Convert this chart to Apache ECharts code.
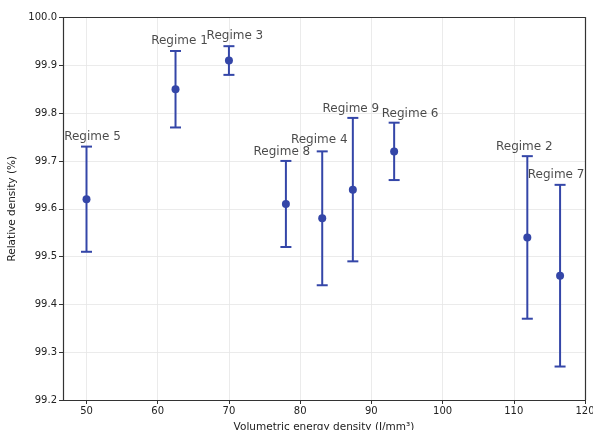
<!DOCTYPE html>
<html>
<head>
<meta charset="utf-8">
<script src="https://cdn.jsdelivr.net/npm/echarts@6/dist/echarts.min.js"></script>
<style>
  html, body { margin: 0; padding: 0; background: #fff; }
  #chart { width: 593px; height: 430px; }
</style>
</head>
<body>
<div id="chart"></div>
<script>
// Regime measurements: energy density, mean relative density and its spread
const regimes = ['Regime 5', 'Regime 1', 'Regime 3', 'Regime 8', 'Regime 4', 'Regime 9', 'Regime 6', 'Regime 2', 'Regime 7'];
const energyDensity = [50, 62.5, 70, 78, 83.1, 87.4, 93.2, 111.9, 116.5];
const meanDensity = [99.62, 99.85, 99.91, 99.61, 99.58, 99.64, 99.72, 99.54, 99.46];
const lowDensity  = [99.51, 99.77, 99.88, 99.52, 99.44, 99.49, 99.66, 99.37, 99.27];
const highDensity = [99.73, 99.93, 99.94, 99.70, 99.72, 99.79, 99.78, 99.71, 99.65];

// Tick labels
const xTicks = [50, 60, 70, 80, 90, 100, 110, 120];
const yTicks = [99.2, 99.3, 99.4, 99.5, 99.6, 99.7, 99.8, 99.9, 100.0];

// Small nudges so the regime labels don't collide
const labelNudge = [[6, -4], [4, -4], [6, -4], [-4, -3], [-3, -6], [-2, -3], [16, -3], [-3, -3], [-4, -4]];

const markColor = '#3446a8';
const font = 'DejaVu Sans';
const frameColor = '#333';

const errorData = energyDensity.map((x, i) => [x, lowDensity[i], highDensity[i]]);
const pointData = energyDensity.map((x, i) => [x, meanDensity[i]]);
const labelData = energyDensity.map((x, i) => ({
  name: regimes[i],
  value: [x, highDensity[i]],
  label: { offset: labelNudge[i] }
}));

const chart = echarts.init(document.getElementById('chart'), null, { renderer: 'canvas' });

// plain frame axes on the top and right edges
const frameX = {
  type: 'value', position: 'top', min: 46.7, max: 120,
  axisLine: { show: true, onZero: false, lineStyle: { color: frameColor, width: 1.2 } },
  axisTick: { show: false }, axisLabel: { show: false }, splitLine: { show: false }
};
const frameY = {
  type: 'value', position: 'right', min: 99.2, max: 100.0,
  axisLine: { show: true, onZero: false, lineStyle: { color: frameColor, width: 1.2 } },
  axisTick: { show: false }, axisLabel: { show: false }, splitLine: { show: false }
};

chart.setOption({
  animation: false,
  backgroundColor: '#fff',
  grid: {
    left: 63, right: 8, top: 17.5, bottom: 30,
    outerBoundsMode: 'none',
    containLabel: false
  },
  xAxis: [{
    type: 'value',
    min: 46.7, max: 120,
    name: 'Volumetric energy density (J/mm³)',
    nameLocation: 'middle', nameGap: 22,
    nameTextStyle: { fontFamily: font, fontSize: 10.5, color: '#222' },
    axisLine: { show: true, onZero: false, lineStyle: { color: frameColor, width: 1.2 } },
    axisTick: { show: true, customValues: xTicks, length: 4, lineStyle: { color: frameColor } },
    axisLabel: { customValues: xTicks, fontFamily: font, fontSize: 10, color: '#222', margin: 6,
                 formatter: v => String(Math.round(v)) },
    splitLine: { show: true, lineStyle: { color: '#e6e6e6', width: 0.8 } }
  }, frameX],
  yAxis: [{
    type: 'value',
    min: 99.2, max: 100.0,
    name: 'Relative density (%)',
    nameLocation: 'middle', nameGap: 44,
    nameTextStyle: { fontFamily: font, fontSize: 10.5, color: '#222' },
    axisLine: { show: true, onZero: false, lineStyle: { color: frameColor, width: 1.2 } },
    axisTick: { show: true, customValues: yTicks, length: 4, lineStyle: { color: frameColor } },
    axisLabel: { customValues: yTicks, fontFamily: font, fontSize: 10, color: '#222', margin: 6,
                 formatter: v => v.toFixed(1) },
    splitLine: { show: true, lineStyle: { color: '#e6e6e6', width: 0.8 } }
  }, frameY],
  series: [
    {
      // vertical error bars with caps
      type: 'custom',
      data: errorData,
      renderItem: (params, api) => {
        const x = api.value(0);
        const lo = api.coord([x, api.value(1)]);
        const hi = api.coord([x, api.value(2)]);
        const half = 5.5;
        const style = { stroke: markColor, lineWidth: 2 };
        return {
          type: 'group',
          children: [
            { type: 'line', shape: { x1: lo[0], y1: lo[1], x2: hi[0], y2: hi[1] }, style },
            { type: 'line', shape: { x1: hi[0] - half, y1: hi[1], x2: hi[0] + half, y2: hi[1] }, style },
            { type: 'line', shape: { x1: lo[0] - half, y1: lo[1], x2: lo[0] + half, y2: lo[1] }, style }
          ]
        };
      },
      z: 2
    },
    {
      type: 'scatter',
      data: pointData,
      symbol: 'circle',
      symbolSize: 8,
      itemStyle: { color: markColor, opacity: 1 },
      z: 3
    },
    {
      // regime names above each upper cap
      type: 'scatter',
      data: labelData,
      symbolSize: 0,
      silent: true,
      label: {
        show: true,
        position: 'top',
        distance: 0,
        formatter: p => p.name,
        fontFamily: font,
        fontSize: 12,
        color: '#1c1c1c'
      },
      z: 4
    }
  ]
});
</script>
</body>
</html>
